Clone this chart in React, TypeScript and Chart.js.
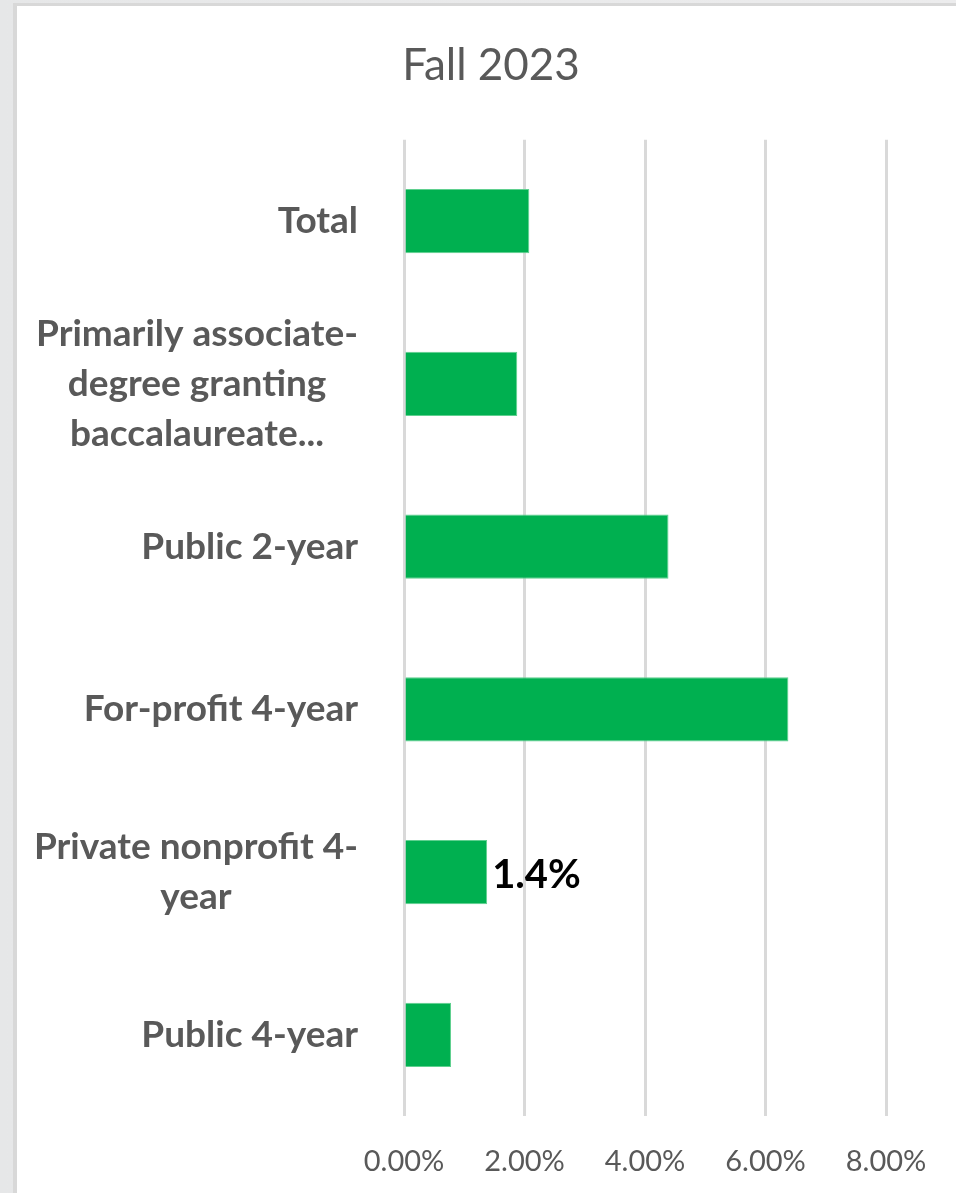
import React, { useEffect, useRef } from "react";
import { Chart, registerables } from "chart.js";

Chart.register(...registerables);

const title = "Fall 2023";
const categories: string[][] = [
  ["Total"],
  ["Primarily associate-", "degree granting", "baccalaureate..."],
  ["Public 2-year"],
  ["For-profit 4-year"],
  ["Private nonprofit 4-", "year"],
  ["Public 4-year"],
];
const values: number[] = [2.08, 1.88, 4.39, 6.38, 1.38, 0.78];
const dataLabels: string[] = ["", "", "", "", "1.4%", ""];
const xTicks: number[] = [0, 2, 4, 6, 8];

const GRAY = "#595959";
const FONT = "Lato, 'Open Sans', sans-serif";

const yLabelPlugin = {
  id: "yLabels",
  afterDraw(chart: any) {
    const ctx = chart.ctx;
    const y = chart.scales.y;
    ctx.save();
    ctx.font = `bold 37px ${FONT}`;
    ctx.fillStyle = GRAY;
    ctx.textAlign = "center";
    ctx.textBaseline = "middle";
    const right = chart.chartArea.left - 46;
    const lh = 50;
    categories.forEach((lines, i) => {
      const cy = y.getPixelForValue(i);
      const w = Math.max(...lines.map((l) => ctx.measureText(l).width));
      const cx = right - w / 2;
      const top = cy - ((lines.length - 1) * lh) / 2;
      lines.forEach((l, j) => ctx.fillText(l, cx, top + j * lh));
    });
    ctx.restore();
  },
};

const dataLabelPlugin = {
  id: "dataLabels",
  afterDatasetsDraw(chart: any) {
    const ctx = chart.ctx;
    const meta = chart.getDatasetMeta(0);
    ctx.save();
    ctx.font = `bold 40px ${FONT}`;
    ctx.fillStyle = "#000000";
    ctx.textAlign = "left";
    ctx.textBaseline = "middle";
    meta.data.forEach((el: any, i: number) => {
      if (dataLabels[i]) ctx.fillText(dataLabels[i], el.x + 5, el.y + 3);
    });
    ctx.restore();
  },
};

export default function App() {
  const ref = useRef<HTMLCanvasElement | null>(null);
  useEffect(() => {
    if (!ref.current) return;
    const chart = new Chart(ref.current, {
      type: "bar",
      data: {
        labels: categories.map((c) => c.join(" ")),
        datasets: [
          {
            data: values,
            backgroundColor: "#00B050",
            borderColor: "#5fd08f",
            borderWidth: 1,
            categoryPercentage: 1,
            barPercentage: 0.394,
          },
        ],
      },
      options: {
        indexAxis: "y",
        animation: false,
        responsive: false,
        maintainAspectRatio: false,
        layout: { padding: { top: 0, bottom: 13, left: 96, right: 70 } },
        plugins: {
          legend: { display: false },
          tooltip: { enabled: false },
          title: {
            display: true,
            text: title,
            color: GRAY,
            font: { family: FONT, size: 44, weight: "normal" },
            padding: { top: 39, bottom: 48 },
          },
        },
        scales: {
          x: {
            min: 0,
            max: 8,
            afterBuildTicks: (scale: any) => {
              scale.ticks = xTicks.map((v) => ({ value: v }));
            },
            grid: { color: "#d9d9d9", lineWidth: 3, drawTicks: false },
            border: { display: false },
            ticks: {
              color: GRAY,
              padding: 28,
              font: { family: FONT, size: 29 },
              callback: (v: any) => Number(v).toFixed(2) + "%",
            },
          },
          y: {
            grid: { display: false },
            border: { display: false },
            ticks: { display: false },
            afterFit: (scale: any) => {
              scale.width = 308;
            },
          },
        },
      },
      plugins: [yLabelPlugin, dataLabelPlugin],
    });
    return () => chart.destroy();
  }, []);

  return (
    <div
      style={{
        position: "absolute",
        left: 0,
        top: 0,
        width: 956,
        height: 1193,
        overflow: "hidden",
        background: "linear-gradient(90deg, #e6e7e8, #ececed)",
      }}
    >
      <div
        style={{
          position: "absolute",
          left: 13,
          top: 3,
          width: 980,
          height: 1240,
          background: "#ffffff",
          borderTop: "3px solid #d8d8d8",
          borderLeft: "4px solid #d8d8d8",
        }}
      />
      <canvas
        ref={ref}
        width={956}
        height={1220}
        style={{ position: "absolute", left: 0, top: 0, width: 956, height: 1220 }}
      />
    </div>
  );
}
